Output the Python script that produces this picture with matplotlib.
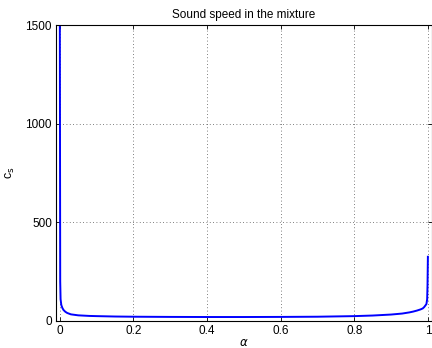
import matplotlib
matplotlib.use('Agg')
import matplotlib.pyplot as plt

plt.rcParams['font.family'] = ['Liberation Sans', 'DejaVu Sans']

# gas volume fraction and mixture sound speed
alpha = [0.0, 0.001, 0.002, 0.004, 0.007, 0.01, 0.015, 0.02, 0.03, 0.05,
         0.08, 0.1, 0.15, 0.2, 0.3, 0.4, 0.5, 0.6, 0.7, 0.8, 0.85, 0.9,
         0.93, 0.95, 0.96, 0.97, 0.98, 0.986, 0.99, 0.996, 0.998, 0.999, 1.0]
c_s = [1500, 200, 110, 80, 65, 55, 46, 40, 33, 28,
       25, 24, 22, 21, 20, 19.5, 19.5, 20, 21, 24, 27, 32,
       37, 43, 47, 52, 58, 63, 70, 85, 110, 180, 325]

xticks = [0, 0.2, 0.4, 0.6, 0.8, 1]
xticklabels = ['0', '0.2', '0.4', '0.6', '0.8', '1']
yticks = [0, 500, 1000, 1500]

fig = plt.figure(figsize=(4.32, 3.48), dpi=100)
ax = fig.add_axes([0.130, 0.078, 0.869, 0.850])

ax.plot(alpha, c_s, color='#0000ff', lw=1.4)

ax.set_xlim(-0.01, 1.01)
ax.set_ylim(0, 1500)
ax.set_xticks(xticks)
ax.set_xticklabels(xticklabels)
ax.set_yticks(yticks)
ax.tick_params(direction='in', top=True, right=True, labelsize=8.5,
               length=3, width=0.6, pad=3)
ax.grid(True, linestyle=(0, (1, 3)), color='#555555', lw=0.6)
for s in ax.spines.values():
    s.set_linewidth(0.8)

ax.set_title('Sound speed in the mixture', fontsize=8.5, pad=5)
ax.set_xlabel(r'$\alpha$', fontsize=8.5, labelpad=0)
ax.set_ylabel(r'c$_\mathrm{s}$', fontsize=9, labelpad=6)

fig.savefig('out.png', dpi=100)
